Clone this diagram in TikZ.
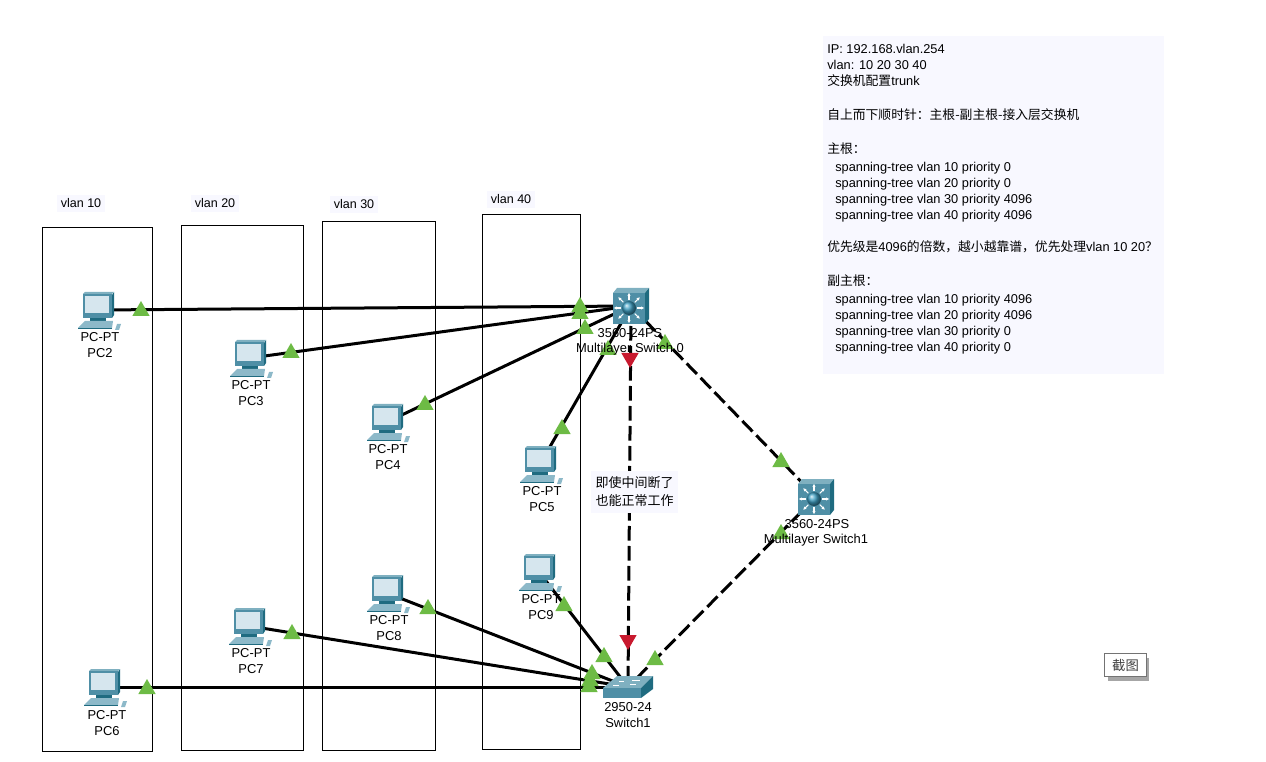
\documentclass[tikz,border=0pt]{standalone}
\usepackage{fontspec}
\setmainfont{Liberation Sans}
\newfontfamily\cjk{Noto Sans CJK SC}
\usetikzlibrary{arrows.meta,shapes.geometric}
\definecolor{panelbg}{HTML}{F8F8FF}
\definecolor{lightgreen}{HTML}{6DBB45}
\definecolor{lightred}{HTML}{C8192E}
\definecolor{devfront}{HTML}{4F8FA6}
\definecolor{devtop}{HTML}{7FB0C0}
\definecolor{devside}{HTML}{1F6B80}
\definecolor{devscreen}{HTML}{D6E6EE}
\definecolor{devbase}{HTML}{8DB9C9}
\definecolor{devball}{HTML}{3FA0C4}
\tikzset{>={Latex[width=2.5pt,length=2.5pt]}}
\tikzset{
  devnode/.style={inner sep=0pt,minimum size=24pt},
  devlabel/.style={inner sep=0pt,font=\fontsize{9.7pt}{11pt}\selectfont},
  vlanbox/.style={draw=black,line width=.75pt},
  vlanlabel/.style={fill=panelbg,inner sep=3pt,font=\fontsize{9.4pt}{11pt}\selectfont},
  uplink/.style={line width=2.25pt},
  trunk/.style={line width=2.25pt,dash pattern=on 11pt off 4pt},
  lightup/.style={regular polygon,regular polygon sides=3,minimum size=15pt,inner sep=0pt,fill=lightgreen},
  lightdown/.style={regular polygon,regular polygon sides=3,shape border rotate=180,minimum size=15pt,inner sep=0pt,fill=lightred},
  pics/pcicon/.style={code={
    \fill[devside] (14,-15)--(16,-18)--(16,5)--(14,8)--cycle;
    \fill[devtop] (-15,-16)--(-13,-18)--(16,-18)--(14,-16)--cycle;
    \fill[devfront] (-15,-16) rectangle (14,8);
    \fill[devscreen] (-13,-14) rectangle (11,3);
    \fill[devside] (-8,8) rectangle (8,11);
    \fill[devbase] (-13,11)--(15,11)--(14,18)--(-20,18)--cycle;
    \fill[devside] (-20,18) rectangle (14,19);
    \fill[devbase] (19,14)--(23,14)--(21,20)--(17,20)--cycle;
  }},
  pics/mlsicon/.style={code={
    \fill[devtop] (-18,-13)--(-14,-18)--(18,-18)--(14,-13)--cycle;
    \fill[devside] (14,-13)--(18,-18)--(18,13)--(14,18)--cycle;
    \fill[devfront] (-18,-13) rectangle (14,18);
    \foreach \a in {0,45,...,315}
      \draw[white,line width=.8pt,->] (-2,2)++(\a:8) -- ++(\a:7.5);
    \shade[ball color=devball] (-2,2) circle (7);
  }},
  pics/swicon/.style={code={
    \fill[devtop] (-25,1)--(-11,-11)--(25,-11)--(13,1)--cycle;
    \fill[devside] (13,1)--(25,-11)--(25,2)--(13,11)--cycle;
    \fill[devfront] (-25,1) rectangle (13,11);
    \draw[white,line width=.6pt] (-9,-6) -- (-4,-6) (4,-7) -- (12,-7) (-15,-2) -- (-9,-2) (2,-3) -- (8,-3);
  }}
}
\begin{document}
\begin{tikzpicture}[x=.75pt,y=-.75pt]
  \useasboundingbox (0,0) rectangle (1266,762);

  % vlan boxes
  \node[vlanlabel] (lab10) at (81,203.5) {vlan 10};
  \node[vlanlabel] (lab20) at (215,203.5) {vlan 20};
  \node[vlanlabel] (lab30) at (354,204.5) {vlan 30};
  \node[vlanlabel] (lab40) at (511,199.5) {vlan 40};
  \draw[vlanbox] (42,227.5) rectangle (152.5,751);
  \draw[vlanbox] (181,225.5) rectangle (303,750);
  \draw[vlanbox] (322,221.5) rectangle (435.5,750);
  \draw[vlanbox] (482,214.5) rectangle (580.5,749);

  % devices, icons come after the links
  \node[devnode] (pc2) at (98,310) {};
  \node[devnode] (pc3) at (250,358) {};
  \node[devnode] (pc4) at (387,422) {};
  \node[devnode] (pc5) at (540,464) {};
  \node[devnode] (pc9) at (539,572) {};
  \node[devnode] (pc8) at (387,593) {};
  \node[devnode] (pc7) at (249,626) {};
  \node[devnode] (pc6) at (104,687) {};
  \node[devnode] (mls0) at (631,306) {};
  \node[devnode] (mls1) at (816,497) {};
  \node[devnode] (sw1) at (628,687) {};

  \draw[uplink] (pc2.center) -- (mls0.center);
  \draw[uplink] (pc3.center) -- (mls0.center);
  \draw[uplink] (pc4.center) -- (mls0.center);
  \draw[uplink] (pc5.center) -- (mls0.center);
  \draw[uplink] (pc6.center) -- (sw1.center);
  \draw[uplink] (pc7.center) -- (sw1.center);
  \draw[uplink] (pc8.center) -- (sw1.center);
  \draw[uplink] (pc9.center) -- (sw1.center);
  \draw[trunk] (mls0.center) -- (mls1.center);
  \draw[trunk] (mls0.center) -- (sw1.center);
  \draw[trunk] (mls1.center) -- (sw1.center);

  % link lights
  \node[lightup] (up2a) at (141,311) {};
  \node[lightup] (up2b) at (580,307) {};
  \node[lightup] (up3a) at (291,353) {};
  \node[lightup] (up3b) at (580,314) {};
  \node[lightup] (up4a) at (425,405) {};
  \node[lightup] (up4b) at (585,329) {};
  \node[lightup] (up5a) at (562,429) {};
  \node[lightup] (up5b) at (608,350) {};
  \node[lightup] (tr0a) at (665,344) {};
  \node[lightup] (tr0b) at (781,462) {};
  \node[lightup] (tr1a) at (781,534) {};
  \node[lightup] (tr1b) at (655,660) {};
  \node[lightup] (up6a) at (147,689) {};
  \node[lightup] (up6b) at (589,687) {};
  \node[lightup] (up7a) at (292,634) {};
  \node[lightup] (up7b) at (590,681) {};
  \node[lightup] (up8a) at (428,609) {};
  \node[lightup] (up8b) at (592,674) {};
  \node[lightup] (up9a) at (564,606) {};
  \node[lightup] (up9b) at (604,657) {};
  \node[lightdown] (dn0) at (630,358) {};
  \node[lightdown] (dn1) at (628,640) {};

  % icons
  \pic at (pc2) {pcicon};
  \pic at (pc3) {pcicon};
  \pic at (pc4) {pcicon};
  \pic at (pc5) {pcicon};
  \pic at (pc9) {pcicon};
  \pic at (pc8) {pcicon};
  \pic at (pc7) {pcicon};
  \pic at (pc6) {pcicon};
  \pic at (mls0) {mlsicon};
  \pic at (mls1) {mlsicon};
  \pic at (sw1) {swicon};

  % device names
  \node[devlabel] (pc2t) at (100,337) {PC-PT};
  \node[devlabel] (pc2n) at (100,353) {PC2};
  \node[devlabel] (pc3t) at (251,385) {PC-PT};
  \node[devlabel] (pc3n) at (251,401) {PC3};
  \node[devlabel] (pc4t) at (388,449) {PC-PT};
  \node[devlabel] (pc4n) at (388,465) {PC4};
  \node[devlabel] (pc5t) at (542,491) {PC-PT};
  \node[devlabel] (pc5n) at (542,507) {PC5};
  \node[devlabel] (pc9t) at (541,599) {PC-PT};
  \node[devlabel] (pc9n) at (541,615) {PC9};
  \node[devlabel] (pc8t) at (389,620) {PC-PT};
  \node[devlabel] (pc8n) at (389,636) {PC8};
  \node[devlabel] (pc7t) at (251,653) {PC-PT};
  \node[devlabel] (pc7n) at (251,669) {PC7};
  \node[devlabel] (pc6t) at (107,715) {PC-PT};
  \node[devlabel] (pc6n) at (107,731) {PC6};
  \node[devlabel] (mls0t) at (630,333) {3560-24PS};
  \node[devlabel] (mls0n) at (630,349) {Multilayer Switch 0};
  \node[devlabel] (mls1t) at (817,524) {3560-24PS};
  \node[devlabel] (mls1n) at (816,540) {Multilayer Switch1};
  \node[devlabel] (sw1t) at (628,707) {2950-24};
  \node[devlabel] (sw1n) at (628,723) {Switch1};

  % notes
  \node[fill=panelbg,inner sep=0pt,minimum width=65.25pt,minimum height=31.5pt,align=center,
    font=\fontsize{9.75pt}{13.5pt}\cjk] (midnote) at (634.5,491.5) {即使中间断了\\也能正常工作};

  \fill[panelbg] (823,36) rectangle (1164,374);
  \node[anchor=north west,inner sep=0pt,align=left,font=\fontsize{9.6pt}{12pt}\selectfont] (infonote) at (827,44) {%
    IP: 192.168.vlan.254\\
    vlan: 10 20 30 40\\
    {\cjk\fontsize{9.6pt}{12pt}\selectfont 交换机配置}trunk\\[13.5pt]
    {\cjk\fontsize{9.6pt}{12pt}\selectfont 自上而下顺时针：主根-副主根-接入层交换机}\\[13.5pt]
    {\cjk\fontsize{9.6pt}{12pt}\selectfont 主根：}\\[1.5pt]
    \hspace*{6pt}spanning-tree vlan 10 priority 0\\
    \hspace*{6pt}spanning-tree vlan 20 priority 0\\
    \hspace*{6pt}spanning-tree vlan 30 priority 4096\\
    \hspace*{6pt}spanning-tree vlan 40 priority 4096\\[12pt]
    {\cjk\fontsize{9.6pt}{12pt}\selectfont 优先级是}4096{\cjk\fontsize{9.6pt}{12pt}\selectfont 的倍数，越小越靠谱，优先处理}vlan 10 20{\cjk\fontsize{9.6pt}{12pt}\selectfont ？}\\[13.5pt]
    {\cjk\fontsize{9.6pt}{12pt}\selectfont 副主根：}\\[1.5pt]
    \hspace*{6pt}spanning-tree vlan 10 priority 4096\\
    \hspace*{6pt}spanning-tree vlan 20 priority 4096\\
    \hspace*{6pt}spanning-tree vlan 30 priority 0\\
    \hspace*{6pt}spanning-tree vlan 40 priority 0};

  % screenshot button
  \fill[black!35] (1108,658) rectangle (1149,681);
  \node[draw=black!55,line width=.9pt,fill=white,inner sep=0pt,minimum width=31pt,minimum height=17.5pt,
    font=\fontsize{10pt}{12pt}\cjk,text=black!75] (shotbtn) at (1125.5,665) {截图};
\end{tikzpicture}
\end{document}
